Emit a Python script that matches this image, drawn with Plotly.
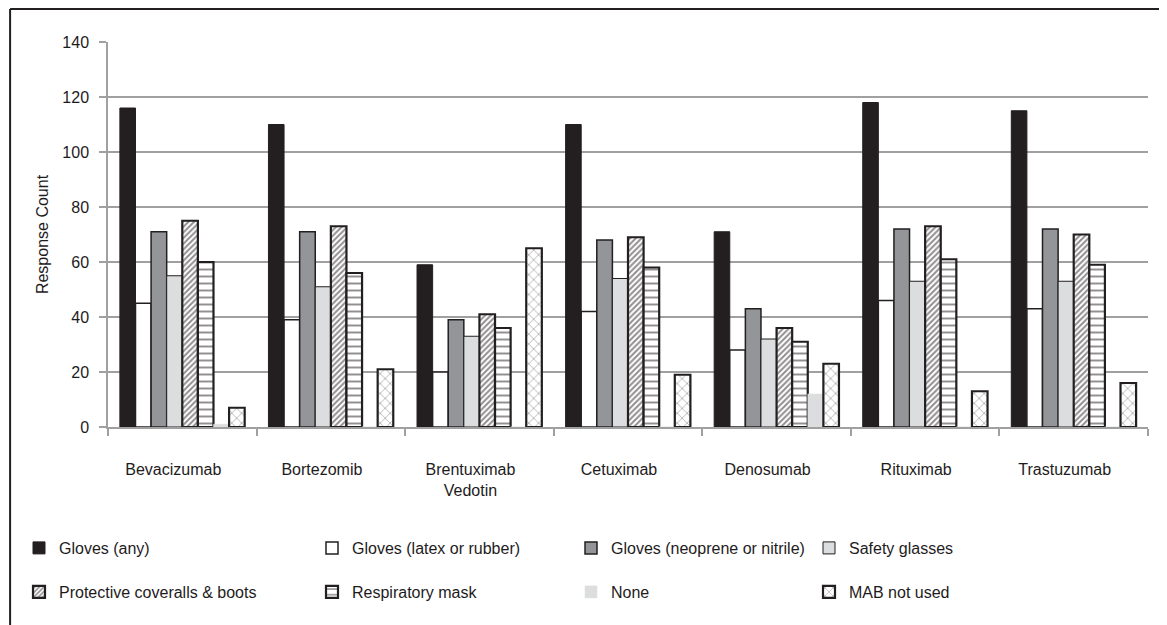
import plotly.graph_objects as go

categories = ["Bevacizumab", "Bortezomib", "Brentuximab<br>Vedotin", "Cetuximab",
              "Denosumab", "Rituximab", "Trastuzumab"]

gloves_any = [116, 110, 59, 110, 71, 118, 115]
gloves_latex = [45, 39, 20, 42, 28, 46, 43]
gloves_neoprene = [71, 71, 39, 68, 43, 72, 72]
safety_glasses = [55, 51, 33, 54, 32, 53, 53]
coveralls = [75, 73, 41, 69, 36, 73, 70]
resp_mask = [60, 56, 36, 58, 31, 61, 59]
none_vals = [1, 0, 0, 0, 12, 0, 0]
mab_not_used = [7, 21, 65, 19, 23, 13, 16]

series_names = ["Gloves (any)", "Gloves (latex or rubber)", "Gloves (neoprene or nitrile)",
                "Safety glasses", "Protective coveralls & boots", "Respiratory mask",
                "None", "MAB not used"]
series_values = [gloves_any, gloves_latex, gloves_neoprene, safety_glasses,
                 coveralls, resp_mask, none_vals, mab_not_used]

TXT = "#1e1b1c"

styles = [
    dict(color="#231f20", line=dict(color="#231f20", width=1)),
    dict(color="#ffffff", line=dict(color="#231f20", width=1.5)),
    dict(color="#939598", line=dict(color="#231f20", width=1.5)),
    dict(color="#dcdddf", line=dict(color="#231f20", width=1)),
    dict(color="#ffffff", line=dict(color="#231f20", width=2.2),
         pattern=dict(shape="/", fgcolor="#231f20", bgcolor="#ffffff", size=4, solidity=0.5)),
    dict(color="#ffffff", line=dict(color="#231f20", width=2.2),
         pattern=dict(shape="-", fgcolor="#231f20", bgcolor="#ffffff", size=7, solidity=0.28)),
    dict(color="#dcdddf", line=dict(color="#dcdddf", width=0.5)),
    dict(color="#ffffff", line=dict(color="#231f20", width=2.2),
         pattern=dict(shape="x", fgcolor="#444444", bgcolor="#ffffff", size=7, solidity=0.2)),
]

# page body has an 8px margin: work in window pixels, convert to figure pixels
OFF = 8
W, H = 1167 - OFF, 625 - OFF
L, R, T, B = 107 - OFF, 1148 - OFF, 42 - OFF, 427 - OFF
pw, ph = R - L, B - T

def px_x(xw):
    return (xw - OFF - L) / pw

def px_y(yw):
    return (B - (yw - OFF)) / ph

legend_cols = [19, 312, 571, 809]
legend_rows = [531, 575]

fig = go.Figure()
layout_legends = {}
for i, (name, vals, st) in enumerate(zip(series_names, series_values, styles)):
    lname = "legend" if i == 0 else f"legend{i+1}"
    fig.add_trace(go.Bar(x=categories, y=vals, name=name, marker=st,
                         legend=lname, showlegend=True))
    col = i % 4
    row = i // 4
    layout_legends[lname] = dict(
        x=px_x(legend_cols[col]), y=px_y(legend_rows[row]),
        xanchor="left", yanchor="top", orientation="v",
        bgcolor="rgba(0,0,0,0)", borderwidth=0,
        font=dict(family="Liberation Sans, Arial, sans-serif", size=16, color=TXT),
        itemwidth=30,
    )

fig.update_layout(
    width=W, height=H,
    margin=dict(l=L, r=W - R, t=T, b=H - B),
    paper_bgcolor="white", plot_bgcolor="white",
    barmode="group", bargap=0.16, bargroupgap=0,
    font=dict(family="Liberation Sans, Arial, sans-serif", size=16, color=TXT),
    **layout_legends,
)

fig.update_xaxes(
    showline=True, linecolor="#a0a0a0", linewidth=1.5,
    ticks="outside", tickson="boundaries", ticklen=7, tickcolor="#a0a0a0", tickwidth=1.5,
    showgrid=False, ticklabelstandoff=27, ticklabelshift=-9,
    tickfont=dict(size=16, color=TXT),
)
fig.update_yaxes(
    range=[0, 140], dtick=20, tick0=0,
    showline=True, linecolor="#a0a0a0", linewidth=1.5,
    ticks="outside", ticklen=7, tickcolor="#a0a0a0", tickwidth=1.5,
    showgrid=True, gridcolor="#a0a0a0", gridwidth=1.5,
    zeroline=False, ticklabelstandoff=7,
    tickfont=dict(size=16, color=TXT),
    title=dict(text="Response Count", font=dict(size=16, color=TXT), standoff=10),
)

# outer frame (top and left edges visible in the reference)
fig.add_shape(type="line", xref="paper", yref="paper",
              x0=px_x(9), x1=px_x(1172), y0=px_y(9), y1=px_y(9),
              line=dict(color="#231f20", width=2))
fig.add_shape(type="line", xref="paper", yref="paper",
              x0=px_x(9), x1=px_x(9), y0=px_y(9), y1=px_y(630),
              line=dict(color="#231f20", width=2))

fig.write_html("out.html")
